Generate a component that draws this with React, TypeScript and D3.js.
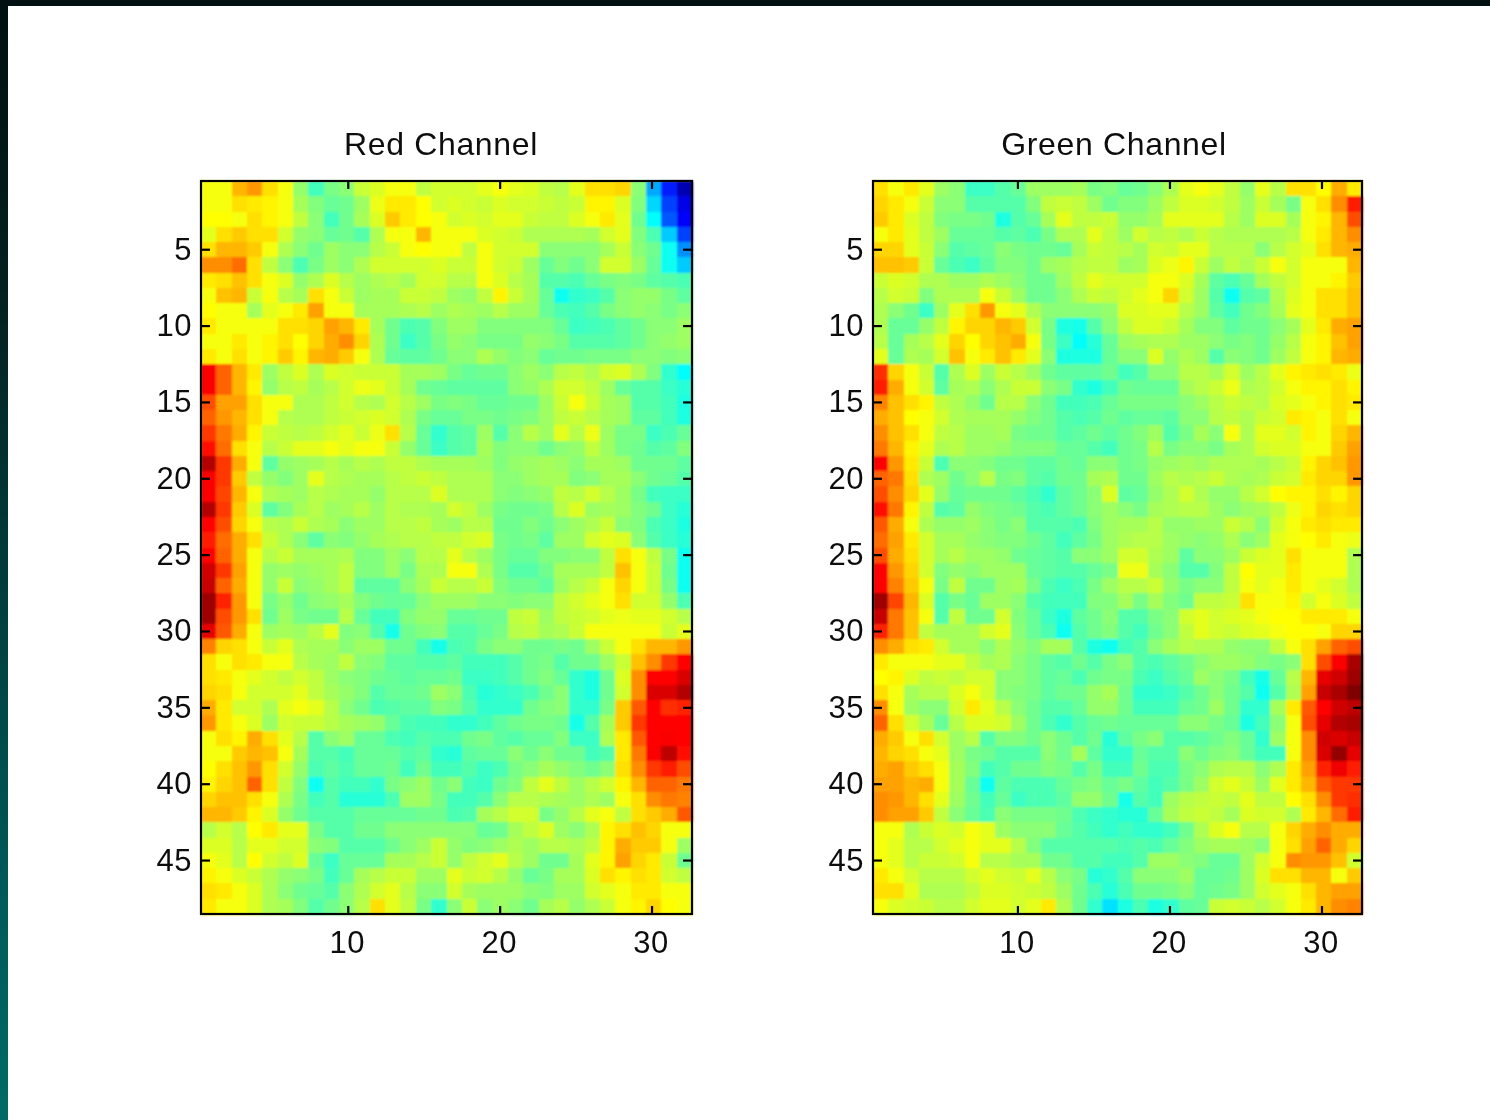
import React from "react";
import * as d3 from "d3";

const redTitle = "Red Channel";
const greenTitle = "Green Channel";
const xTickValues = [10, 20, 30];
const yTickValues = [5, 10, 15, 20, 25, 30, 35, 40, 45];

const redChannel: number[][] = [
[62,62,70,73,66,62,51,42,48,50,57,59,62,62,56,58,58,58,60,62,60,59,56,55,60,66,66,67,50,27,15,5],
[62,62,66,65,64,62,53,49,46,47,52,61,65,65,63,58,59,58,57,59,58,58,57,56,57,64,64,59,49,31,18,10],
[63,63,62,66,64,62,56,50,42,47,53,59,68,65,63,62,58,59,58,60,60,57,56,56,59,62,65,60,47,35,20,12],
[60,66,68,66,66,58,51,50,46,47,44,54,62,62,70,62,62,62,59,58,57,54,54,54,54,53,58,60,49,43,30,18],
[66,70,70,68,62,54,50,47,52,50,50,55,57,62,63,62,62,56,62,58,58,58,50,50,50,50,53,57,50,47,36,25],
[74,74,77,66,56,50,43,48,52,50,54,58,58,58,58,59,57,57,62,58,57,52,46,49,47,50,58,58,52,46,36,30],
[65,66,69,66,62,59,51,54,59,55,52,54,55,53,58,58,55,55,62,59,55,53,44,44,43,46,48,49,48,45,44,43],
[62,69,70,57,62,55,53,66,62,57,52,53,53,57,57,56,52,51,56,64,57,53,46,36,40,41,44,50,51,51,48,45],
[63,62,62,53,60,62,65,72,62,62,53,53,53,54,55,52,54,53,52,55,52,52,46,43,42,44,48,50,51,50,48,50],
[65,62,62,62,62,66,66,67,72,70,65,53,47,43,44,49,52,52,49,49,49,49,49,46,41,42,43,45,47,50,50,52],
[62,62,65,62,64,66,63,67,71,74,67,54,47,41,44,48,51,50,48,48,48,51,50,48,44,44,44,45,47,50,51,52],
[65,62,66,62,64,68,64,70,71,68,62,54,46,45,45,47,50,50,54,51,49,50,46,47,47,48,48,48,50,50,49,50],
[88,78,70,65,52,56,59,54,59,58,57,57,57,53,53,52,48,46,47,47,50,52,50,55,56,54,58,59,54,49,40,35],
[88,78,70,64,51,55,56,53,55,58,61,60,57,53,47,46,45,45,45,45,50,51,54,58,58,56,52,46,44,44,41,39],
[80,72,72,66,62,62,54,54,56,58,55,54,58,55,52,48,49,48,46,46,47,47,52,57,62,57,53,52,44,44,42,38],
[78,73,70,66,62,55,54,54,56,57,58,59,58,54,48,46,46,48,48,47,48,49,52,56,57,55,53,52,45,45,42,38],
[82,76,71,64,57,56,55,56,58,60,57,61,66,55,46,40,44,45,52,44,50,55,52,60,55,61,52,48,48,41,43,46],
[86,77,66,62,55,57,60,60,62,60,62,62,57,51,46,41,44,45,53,49,50,50,47,50,51,56,52,48,47,44,45,49],
[95,82,71,62,45,51,52,53,55,53,55,54,56,56,54,53,53,53,52,49,51,52,53,52,50,53,53,52,47,47,47,45],
[88,82,68,56,51,49,52,60,55,54,53,53,55,56,57,56,54,54,54,50,50,52,53,53,49,50,53,53,50,47,46,44],
[88,81,70,62,54,53,52,55,54,53,53,51,55,55,55,59,54,54,54,50,49,50,51,56,55,58,55,52,48,42,41,41],
[95,82,68,59,45,49,53,55,52,53,55,52,55,54,54,53,58,56,52,48,47,47,48,55,59,52,53,52,49,47,41,39],
[87,80,67,62,55,54,57,54,53,50,52,52,55,55,56,53,52,55,55,47,47,49,47,50,52,54,57,50,49,43,41,38],
[85,77,71,66,57,54,50,45,50,49,51,53,54,55,55,56,56,58,59,48,47,48,45,52,52,58,60,59,50,44,41,39],
[87,78,71,62,55,57,53,53,53,54,49,49,52,50,55,55,60,55,52,48,46,46,49,49,50,50,56,66,62,56,48,36],
[92,82,72,62,51,52,51,52,53,56,49,49,52,48,54,54,62,62,54,48,44,44,47,53,53,53,56,69,62,57,47,36],
[93,78,71,62,51,57,50,51,53,56,45,45,45,50,53,57,55,55,57,49,47,47,45,52,55,57,62,67,62,57,48,36],
[97,84,73,62,48,51,47,50,51,53,49,47,46,46,50,52,52,52,50,50,49,50,50,56,58,60,62,66,58,58,51,43],
[97,80,73,66,47,52,48,47,47,55,46,42,42,49,51,51,46,46,47,47,56,57,52,56,57,58,60,61,60,60,58,55],
[90,79,71,62,52,53,52,55,60,49,50,44,37,47,49,50,44,44,46,48,55,56,53,54,57,62,62,62,62,62,57,60],
[75,67,66,62,57,60,54,53,53,50,52,52,47,47,42,37,43,44,48,50,50,47,47,48,47,52,57,62,66,70,70,73],
[66,62,66,65,62,62,55,53,52,56,50,49,45,45,44,44,45,42,42,42,44,47,48,44,47,47,52,57,69,74,82,87],
[66,65,62,60,58,56,58,56,52,50,49,47,46,45,46,46,47,41,41,42,44,47,49,46,40,38,47,59,74,87,87,91],
[67,66,62,58,58,58,60,56,53,51,49,44,46,46,47,52,50,43,39,40,41,43,47,50,40,38,47,58,74,91,91,95],
[71,65,58,58,54,60,62,60,55,50,47,43,44,45,45,49,48,44,40,40,40,47,49,50,40,40,48,68,79,87,83,84],
[73,65,62,59,52,58,57,57,55,53,52,51,46,43,42,42,40,40,42,45,47,48,48,47,37,44,53,68,82,87,87,87],
[62,66,64,71,66,60,55,44,50,52,46,46,43,42,44,43,43,47,48,45,44,46,46,49,41,41,54,65,79,87,88,87],
[62,62,68,70,69,62,53,44,44,42,46,46,46,44,45,40,39,45,46,46,50,47,50,47,47,42,44,65,76,88,94,86],
[63,66,69,73,66,58,51,43,45,43,46,46,47,42,47,42,42,44,41,43,48,50,53,51,49,47,50,66,74,82,85,80],
[64,67,69,78,66,56,49,36,44,42,42,40,48,50,52,47,50,42,41,47,49,56,60,56,52,55,58,64,70,78,78,76],
[67,69,69,66,62,54,48,42,44,39,39,39,43,52,52,48,42,42,44,50,55,55,54,53,52,54,52,62,66,74,76,75],
[70,70,68,64,59,51,47,44,44,44,46,46,46,46,47,47,43,44,53,55,58,58,48,51,55,60,62,56,66,68,71,79],
[55,58,55,63,65,60,60,48,44,44,47,47,50,50,50,50,50,50,46,47,53,56,59,52,50,54,64,66,69,67,62,62],
[59,59,55,60,60,58,58,50,49,44,44,44,47,50,52,57,51,49,50,52,54,52,55,55,54,56,64,71,68,68,62,52],
[62,60,55,63,58,56,59,46,41,46,46,46,53,53,55,57,51,56,58,60,55,52,47,47,53,60,64,72,67,65,57,47],
[64,62,59,57,54,51,50,48,42,46,53,55,57,57,52,52,60,57,58,55,51,46,48,53,53,59,66,64,66,65,58,56],
[66,65,62,59,54,50,47,46,44,50,54,58,60,55,50,50,58,53,52,52,52,50,49,52,52,58,60,62,65,65,62,62],
[65,62,62,59,54,53,49,44,47,50,55,66,60,56,48,40,50,57,50,52,50,47,53,55,51,54,57,62,64,67,63,62],
];

const greenChannel: number[][] = [
[66,62,65,60,52,50,41,41,44,46,52,52,52,53,48,49,46,47,50,54,60,62,60,56,51,60,55,66,66,63,71,65],
[67,65,62,57,50,50,44,44,44,44,49,56,57,56,52,47,49,49,52,56,59,59,58,56,52,57,53,48,62,66,74,85],
[68,65,59,56,49,48,48,47,38,44,46,53,60,56,56,57,51,51,53,60,60,60,60,55,52,59,59,53,62,64,70,80],
[62,65,60,56,52,46,46,46,44,45,43,48,54,54,60,56,52,58,55,56,54,57,55,54,54,54,54,55,62,65,70,74],
[67,67,60,57,50,44,45,46,50,48,47,47,46,53,57,56,55,53,58,57,60,60,55,55,55,50,55,58,60,66,70,71],
[69,69,68,57,46,43,41,45,49,49,47,52,53,55,56,56,52,53,59,61,64,57,52,56,54,57,62,58,62,62,62,70],
[57,59,58,54,54,52,52,54,52,50,47,47,52,56,60,58,58,58,62,62,59,53,45,43,46,53,56,58,62,62,64,68],
[55,58,57,49,54,54,54,62,57,52,47,47,50,54,57,56,58,60,62,67,58,52,44,36,44,45,54,59,62,66,66,69],
[54,50,47,41,52,60,66,73,62,60,54,50,50,50,50,51,59,59,60,60,55,52,45,42,47,49,53,60,62,66,66,69],
[54,46,46,51,56,64,67,67,70,68,58,48,38,37,44,50,56,59,59,57,53,49,49,45,47,47,50,53,60,65,71,72],
[55,46,53,55,60,67,63,67,69,71,62,48,41,35,39,46,52,53,54,54,52,52,50,48,49,47,51,55,62,64,69,72],
[60,46,54,53,58,69,62,65,69,65,60,50,38,38,38,46,50,50,59,51,54,52,44,50,49,47,52,56,62,64,70,71],
[83,67,62,57,44,54,59,52,57,55,52,47,45,45,45,47,42,44,50,50,55,55,53,58,52,55,60,64,65,66,65,61],
[85,71,62,58,45,53,54,50,54,57,57,50,48,40,38,42,47,46,46,46,53,55,57,61,54,55,58,62,64,64,66,64],
[75,69,66,64,56,54,51,47,55,55,50,47,42,42,43,46,48,48,48,48,50,52,55,57,56,55,59,60,62,64,66,65],
[71,69,63,62,58,54,53,53,53,51,49,47,44,43,44,47,45,46,46,45,50,50,55,56,54,57,58,65,64,62,66,62],
[74,69,66,62,56,55,52,52,53,48,47,47,44,45,47,45,47,49,52,44,48,53,50,62,54,60,60,58,64,62,67,70],
[76,70,64,60,54,55,52,52,51,49,49,49,46,46,44,42,47,48,55,48,50,50,48,53,54,58,59,59,62,62,68,72],
[87,73,65,57,43,50,50,49,47,47,45,45,47,46,50,50,47,48,51,52,53,52,54,54,54,53,55,57,64,67,69,73],
[78,76,66,54,52,47,50,55,48,49,45,44,47,47,53,54,47,47,52,55,54,55,57,54,53,54,57,58,65,67,67,73],
[80,74,67,60,51,46,47,47,47,45,43,40,45,47,50,59,45,46,51,54,58,54,51,51,55,58,63,64,64,66,64,67],
[86,76,64,56,44,45,51,49,48,47,44,43,45,47,50,52,50,48,53,54,55,55,52,50,52,53,56,61,64,67,66,67],
[79,71,62,54,51,51,52,50,48,50,44,44,44,43,49,52,53,53,55,51,51,52,52,57,55,50,58,62,65,66,65,65],
[77,72,65,58,53,53,51,50,49,49,47,45,42,45,48,52,54,55,55,52,51,50,51,54,50,52,60,62,63,65,62,61],
[80,71,66,58,53,55,52,52,51,47,46,45,44,50,50,52,58,58,54,52,45,50,50,52,57,59,60,66,62,62,62,54],
[87,73,67,58,49,51,50,52,52,52,46,45,44,44,46,48,61,61,53,50,44,44,49,56,63,60,60,65,62,62,62,54],
[87,75,68,62,48,56,47,47,52,53,48,43,41,43,48,52,55,55,57,51,48,50,50,56,62,60,62,65,62,60,58,54],
[97,81,70,59,44,48,46,52,52,50,44,42,42,42,49,49,53,48,53,49,47,56,56,57,66,62,62,64,58,62,59,56],
[93,76,69,62,44,56,47,47,58,49,46,41,38,45,47,50,44,44,48,50,58,60,58,59,60,62,63,63,65,65,65,62],
[84,76,69,56,53,53,53,58,60,50,46,43,36,44,47,49,44,42,47,50,56,60,58,57,59,60,62,63,63,62,67,67],
[74,71,66,65,58,53,53,50,54,51,49,53,53,44,38,36,42,44,50,53,55,54,54,51,50,50,56,62,66,72,78,80],
[65,62,62,62,60,60,56,53,54,50,48,45,44,47,44,48,50,44,43,45,47,50,52,52,51,49,48,50,66,80,88,96],
[63,64,59,56,57,56,58,58,50,50,48,45,46,43,47,48,48,43,41,44,46,52,50,48,42,37,46,55,70,90,92,97],
[66,62,53,55,55,59,62,58,50,49,48,45,47,47,51,53,47,40,40,41,44,47,50,47,44,36,44,54,72,93,96,100],
[74,62,52,50,50,58,65,60,55,50,47,44,44,46,51,51,47,42,42,42,46,47,52,47,40,40,53,65,79,87,92,94],
[78,66,58,53,46,55,59,59,58,52,47,43,40,44,46,47,46,46,46,46,50,50,48,46,38,42,50,62,80,90,95,96],
[71,68,62,66,58,52,55,44,49,49,47,50,47,44,47,39,45,48,50,44,44,45,47,49,46,40,52,62,74,92,91,93],
[70,67,66,62,60,52,48,47,44,44,44,50,47,53,45,40,40,46,44,44,50,47,49,50,46,42,42,62,74,91,98,90],
[71,72,68,66,62,53,49,42,44,47,47,49,48,44,48,42,42,47,43,43,48,50,54,55,55,50,54,65,72,84,89,85],
[72,72,70,71,62,53,46,36,45,43,43,43,46,48,49,46,48,45,42,44,48,52,58,60,57,52,60,65,70,79,82,82],
[74,73,70,66,60,52,47,42,46,41,43,43,45,51,51,47,37,44,42,52,55,56,57,56,60,56,56,63,66,74,82,83],
[74,72,72,68,56,50,46,43,50,48,48,48,47,43,41,40,39,39,46,53,56,57,56,53,59,58,58,54,65,70,77,85],
[62,62,54,57,59,58,62,60,52,50,50,50,46,44,42,40,42,40,40,42,47,54,59,62,55,55,62,67,71,74,71,71],
[62,60,55,55,58,60,62,60,60,55,49,44,44,44,44,44,43,44,43,46,49,52,53,53,52,50,62,66,72,78,71,67],
[62,60,55,57,57,58,62,55,55,53,53,47,47,44,44,42,42,44,52,52,50,49,46,46,52,58,62,74,73,73,69,58],
[65,62,58,55,55,55,58,60,58,57,60,55,50,48,39,40,44,50,50,50,52,46,46,47,52,59,66,66,70,70,62,68],
[66,66,60,54,54,54,56,59,59,58,57,56,52,47,43,39,43,47,47,48,50,46,47,48,52,58,60,62,66,70,72,72],
[62,59,58,57,55,55,58,60,60,58,60,65,54,47,40,32,38,43,38,40,45,46,57,58,57,55,58,62,65,70,74,75],
];

const jet = d3
  .scaleLinear<string>()
  .domain([0, 12.5, 34.5, 63, 87.5, 100])
  .range(["#000080", "#0000ff", "#00ffff", "#ffff00", "#ff0000", "#800000"])
  .clamp(true);

const INK = "#111111";
const FONT = "'Liberation Sans', Arial, sans-serif";

type PanelProps = {
  title: string;
  values: number[][];
  frame: [number, number];
  tickRange: [number, number];
  titleX: number;
};

function Panel({ title, values, frame, tickRange, titleX }: PanelProps) {
  const top = 181;
  const bottom = 914;
  const cols = d3.range(1, values[0].length + 1);
  const rows = d3.range(1, values.length + 1);
  const xCell = d3.scaleBand<number>().domain(cols).range(frame);
  const yCell = d3.scaleBand<number>().domain(rows).range([top, bottom]);
  const xTick = d3.scaleLinear().domain([0.5, 32.5]).range(tickRange);
  const yTick = d3.scaleLinear().domain([0.5, 48.5]).range([top, bottom]);
  return (
    <g>
      <g shapeRendering="crispEdges" filter="url(#softCells)">
        {values.map((row, r) =>
          row.map((v, c) => (
            <rect
              key={`${r}-${c}`}
              x={xCell(c + 1)}
              y={yCell(r + 1)}
              width={xCell.bandwidth() + 0.6}
              height={yCell.bandwidth() + 0.6}
              fill={jet(v)}
            />
          ))
        )}
      </g>
      <g filter="url(#softInk)">
        <rect x={frame[0]} y={top} width={frame[1] - frame[0]} height={bottom - top} fill="none" stroke="#000" strokeWidth={2.2} />
        {xTickValues.map((t) => (
          <g key={t}>
            <line x1={xTick(t)} x2={xTick(t)} y1={top} y2={top + 8} stroke="#000" strokeWidth={2.2} />
            <line x1={xTick(t)} x2={xTick(t)} y1={bottom} y2={bottom - 8} stroke="#000" strokeWidth={2.2} />
            <text x={xTick(t) - 1} y={953} textAnchor="middle" fontSize={31} letterSpacing={0.5} fill={INK} fontFamily={FONT}>
              {t}
            </text>
          </g>
        ))}
        {yTickValues.map((t) => (
          <g key={t}>
            <line x1={frame[0]} x2={frame[0] + 9} y1={yTick(t)} y2={yTick(t)} stroke="#000" strokeWidth={2.2} />
            <line x1={frame[1]} x2={frame[1] - 9} y1={yTick(t)} y2={yTick(t)} stroke="#000" strokeWidth={2.2} />
            <text x={frame[0] - 9} y={yTick(t) + 10} textAnchor="end" fontSize={31} letterSpacing={0.5} fill={INK} fontFamily={FONT}>
              {t}
            </text>
          </g>
        ))}
        <text x={titleX} y={155} textAnchor="middle" fontSize={32} letterSpacing={0.65} fill={INK} fontFamily={FONT}>
          {title}
        </text>
      </g>
    </g>
  );
}

export default function App() {
  return (
    <svg
      width={1490}
      height={1120}
      viewBox="0 0 1490 1120"
      style={{ position: "fixed", left: 0, top: 0, display: "block" }}
    >
      <defs>
        <linearGradient id="edge" x1="0" y1="0" x2="0" y2="1">
          <stop offset="0" stopColor="#001010" />
          <stop offset="0.25" stopColor="#03201f" />
          <stop offset="0.8" stopColor="#005a5a" />
          <stop offset="1" stopColor="#006b66" />
        </linearGradient>
        <filter id="softCells" x="-2%" y="-2%" width="104%" height="104%">
          <feGaussianBlur stdDeviation="0.9" />
        </filter>
        <filter id="softInk" x="-5%" y="-5%" width="110%" height="110%">
          <feGaussianBlur stdDeviation="0.45" />
        </filter>
      </defs>
      <rect width={1490} height={1120} fill="#ffffff" />
      <Panel title={redTitle} values={redChannel} frame={[201, 692]} tickRange={[204, 690]} titleX={441} />
      <Panel title={greenTitle} values={greenChannel} frame={[873, 1362]} tickRange={[873.5, 1360]} titleX={1114} />
      <rect x={0} y={0} width={8} height={1120} fill="url(#edge)" />
      <rect x={0} y={0} width={1490} height={6} fill="#021012" />
    </svg>
  );
}
